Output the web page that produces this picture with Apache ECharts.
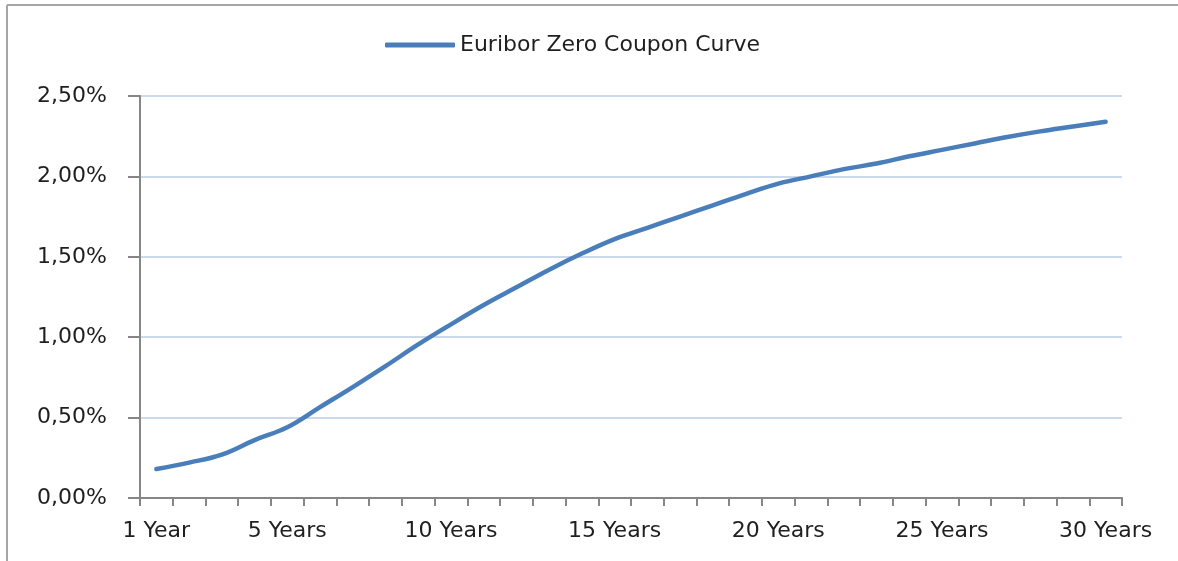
<!DOCTYPE html>
<html>
<head>
<meta charset="utf-8">
<script src="https://cdn.jsdelivr.net/npm/echarts@6/dist/echarts.min.js"></script>
<style>
  html, body { margin: 0; padding: 0; background: #fff; }
  #main { width: 1178px; height: 561px; }
</style>
</head>
<body>
<div id="main"></div>
<script>
// maturities 1..30 years
var categories = [
  '1 Year', '2 Years', '3 Years', '4 Years', '5 Years', '6 Years', '7 Years', '8 Years', '9 Years', '10 Years',
  '11 Years', '12 Years', '13 Years', '14 Years', '15 Years', '16 Years', '17 Years', '18 Years', '19 Years', '20 Years',
  '21 Years', '22 Years', '23 Years', '24 Years', '25 Years', '26 Years', '27 Years', '28 Years', '29 Years', '30 Years'
];
// zero coupon rates in percent
var zeroRates = [
  0.18, 0.22, 0.27, 0.36, 0.44, 0.565, 0.69, 0.82, 0.955, 1.08,
  1.20, 1.31, 1.42, 1.52, 1.61, 1.68, 1.75, 1.82, 1.89, 1.955,
  2.00, 2.045, 2.08, 2.125, 2.165, 2.205, 2.245, 2.28, 2.31, 2.34
];
var yTicks = [0, 0.5, 1, 1.5, 2, 2.5];
var seriesName = 'Euribor Zero Coupon Curve';

var font = 'DejaVu Sans';
var textColor = '#1f1f1f';
var axisColor = '#868686';

var chart = echarts.init(document.getElementById('main'));
var option = {
  animation: false,
  textStyle: { fontFamily: font },
  graphic: [
    { type: 'line', shape: { x1: 7, y1: 5, x2: 1178, y2: 5 }, style: { stroke: '#a6a6a6', lineWidth: 2 } },
    { type: 'line', shape: { x1: 7, y1: 5, x2: 7, y2: 561 }, style: { stroke: '#a6a6a6', lineWidth: 2 } }
  ],
  legend: {
    left: 380,
    top: 29,
    itemWidth: 70,
    itemHeight: 5,
    icon: 'roundRect',
    data: [seriesName],
    textStyle: { fontFamily: font, fontSize: 22, color: textColor }
  },
  grid: { left: 140, right: 56, top: 96, bottom: 63 },
  xAxis: {
    type: 'category',
    data: categories,
    boundaryGap: true,
    axisLine: { lineStyle: { color: axisColor, width: 2 } },
    axisTick: { show: true, interval: 0, length: 8, lineStyle: { color: axisColor, width: 2 } },
    axisLabel: {
      interval: function (i) { return i === 0 || (i + 1) % 5 === 0; },
      fontFamily: font, fontSize: 22, color: textColor, margin: 22
    },
    splitLine: { show: false }
  },
  yAxis: {
    type: 'value',
    min: yTicks[0],
    max: yTicks[yTicks.length - 1],
    interval: 0.5,
    axisLine: { show: true, lineStyle: { color: axisColor, width: 2 } },
    axisTick: { show: true, length: 12, lineStyle: { color: axisColor, width: 2 } },
    axisLabel: {
      fontFamily: font, fontSize: 22, color: textColor, margin: 33,
      formatter: function (v) { return v.toFixed(2).replace('.', ',') + '%'; }
    },
    splitLine: { lineStyle: { color: '#b9cde5', width: 1.5 } }
  },
  series: [{
    name: seriesName,
    type: 'line',
    data: zeroRates,
    smooth: 0.4,
    symbol: 'none',
    lineStyle: { color: '#4a7ebb', width: 4.5, cap: 'round' },
    itemStyle: { color: '#4a7ebb' }
  }]
};
chart.setOption(option);
</script>
</body>
</html>
